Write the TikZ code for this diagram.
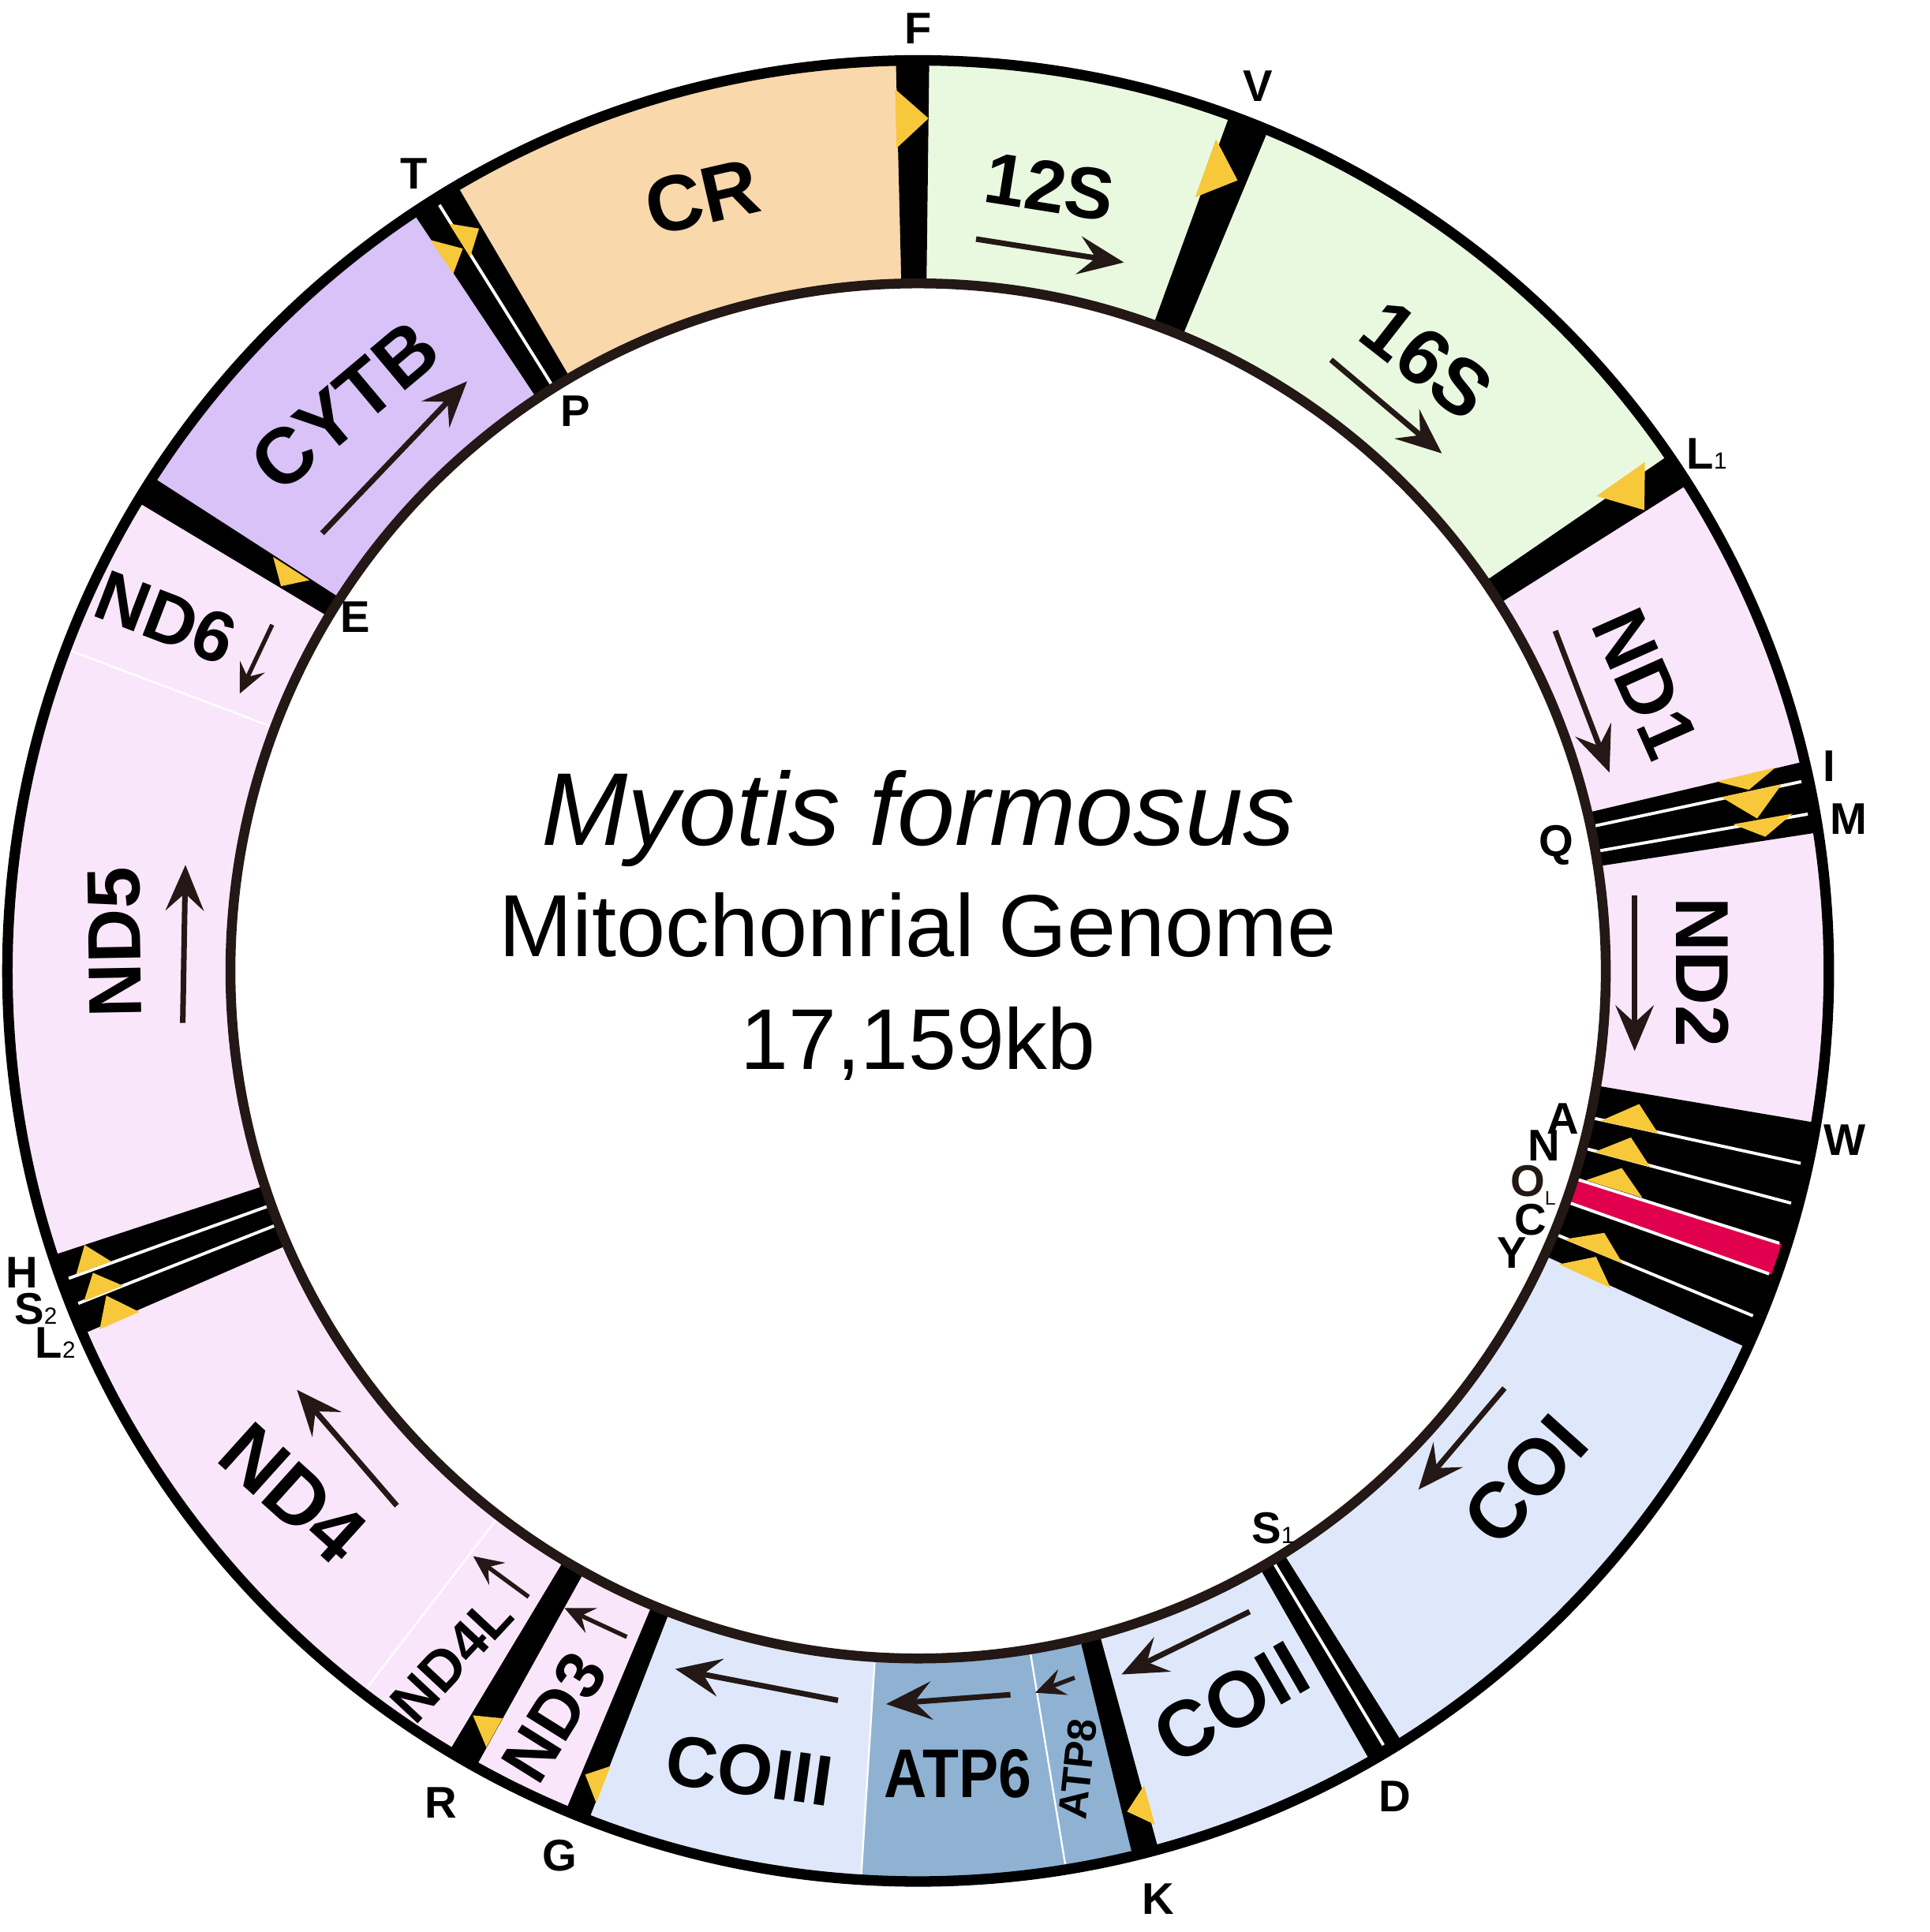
\documentclass[tikz,border=0pt]{standalone}
\usepackage{fontspec}
\setmainfont{Liberation Sans}
\usetikzlibrary{arrows.meta}
\definecolor{crc}{HTML}{F9D8AC}
\definecolor{rrna}{HTML}{E9F9DF}
\definecolor{ndc}{HTML}{FAE6FA}
\definecolor{cytbc}{HTML}{D8C2F8}
\definecolor{coc}{HTML}{DFE8FA}
\definecolor{atpc}{HTML}{8FB2D2}
\definecolor{olc}{HTML}{E0004D}
\definecolor{trnay}{HTML}{F7C83A}
\definecolor{dbrown}{HTML}{231815}
\newcommand\gseg[3]{\fill[#3] (#1:558pt) arc[start angle=#1,end angle=#2,radius=558pt] -- (#2:739pt) arc[start angle=#2,end angle=#1,radius=739pt] -- cycle;}
\newcommand\wline[1]{\draw[white,line width=2.5pt] (#1:562pt) -- (#1:733pt);}
\newcommand\thinw[1]{\draw[white,line width=1.5pt] (#1:562pt) -- (#1:735pt);}
\newcommand\ytri[5]{\fill[trnay] (#1:#2pt) -- (#1:#3pt) -- (#4:#5pt) -- cycle;}
\newcommand\lblfont[1]{\fontsize{#1}{#1}\selectfont\bfseries}
\newcommand\tsub[1]{{\fontsize{19}{19}\selectfont\mdseries #1}}
\begin{document}
\begin{tikzpicture}[x=1pt,y=1pt,
  glabel/.style={inner sep=0pt, anchor=center},
  tlabel/.style={inner sep=0pt, anchor=center, font=\lblfont{36}},
  garrow/.style={draw=dbrown, line width=4.5pt, -{Stealth[length=37pt,width=31pt,inset=14pt]}},
  sarrow/.style={draw=dbrown, line width=3.5pt, -{Stealth[length=24pt,width=22pt,inset=9pt]}}]
\useasboundingbox (-745,-780) rectangle (821,788);
% gene fills
\gseg{91.4}{120.4}{crc}
\gseg{70.0}{89.3}{rrna}
\gseg{34.5}{67.4}{rrna}
\gseg{13.3}{32.3}{ndc}
\gseg{-9.6}{8.75}{ndc}
\gseg{-57.9}{-24.45}{coc}
\gseg{-74.7}{-60.23}{coc}
\gseg{-80.65}{-76.38}{atpc}
\gseg{-93.6}{-80.65}{atpc}
\gseg{-111.2}{-93.6}{coc}
\gseg{-119.05}{-112.76}{ndc}
\gseg{-127.55}{-121.0}{ndc}
\gseg{-156.5}{-127.55}{ndc}
\gseg{159.3}{198.2}{ndc}
\gseg{149.0}{159.3}{ndc}
\gseg{123.66}{147.17}{cytbc}
% tRNA bands
\gseg{89.3}{91.4}{black}
\gseg{67.4}{70.0}{black}
\gseg{32.3}{34.5}{black}
\gseg{8.75}{13.3}{black}
\gseg{-24.45}{-9.6}{black}
\gseg{-19.6}{-17.55}{olc}
\gseg{-60.23}{-57.9}{black}
\gseg{-76.38}{-74.7}{black}
\gseg{-112.76}{-111.2}{black}
\gseg{-121.0}{-119.05}{black}
\gseg{-161.8}{-156.5}{black}
\gseg{147.17}{149.0}{black}
\gseg{120.4}{123.66}{black}
% white separators
\wline{12.1}\wline{10.0}
\wline{-12.3}\wline{-14.9}\wline{-17.55}\wline{-19.6}\wline{-22.45}
\wline{-59.0}
\wline{-160.1}\wline{-158.4}
\wline{122.0}
\thinw{159.3}\thinw{-127.55}\thinw{-80.65}\thinw{-93.6}
% yellow tRNA marks
\ytri{91.5}{668}{716}{89.3}{692}
\ytri{70.3}{667}{717}{68.0}{692}
\ytri{35.0}{672}{720}{32.4}{698}
\ytri{13.35}{666}{715}{12.3}{690}
\ytri{12.2}{667}{717}{10.3}{692}
\ytri{10.2}{672}{721}{9.0}{696}
\ytri{-12.4}{567}{615}{-10.46}{595}
\ytri{-15.0}{568}{615}{-13.15}{594}
\ytri{-17.4}{568}{616}{-15.65}{593}
\ytri{-22.55}{568}{619}{-20.9}{596}
\ytri{-24.6}{572}{618}{-22.87}{597}
\ytri{-74.5}{686}{719}{-76.04}{703}
\ytri{-111.15}{692}{724}{-112.5}{706}
\ytri{-119.07}{694}{721}{-120.88}{704}
\ytri{-160.2}{696}{726}{-161.8}{712}
\ytri{-158.4}{694}{728}{-159.9}{713}
\ytri{-156.35}{690}{725}{-158.2}{709.5}
\ytri{147.3}{587}{622}{148.87}{604}
\ytri{123.7}{680}{713}{122.22}{693}
\ytri{122.1}{684}{716}{120.6}{700}
% ring outlines
\draw[black,line width=8.5pt] (0,0) circle[radius=739pt];
\draw[dbrown,line width=8pt] (0,0) circle[radius=558pt];
% gene labels
\node[glabel,font=\lblfont{64},rotate=13] (cr) at (-175,628) {CR};
\node[glabel,font=\lblfont{59},rotate=-9] (s12) at (107,636) {12S};
\node[glabel,font=\lblfont{64},rotate=-38] (s16) at (413,496) {16S};
\node[glabel,font=\lblfont{62},rotate=-66] (nd1) at (590,233) {ND1};
\node[glabel,font=\lblfont{61},rotate=-90] (nd2) at (636.7,-1) {ND2};
\node[glabel,font=\lblfont{64},rotate=48] (co1) at (492.8,-413.3) {COI};
\node[glabel,font=\lblfont{64},rotate=30] (co2) at (254,-594) {COII};
\node[glabel,font=\lblfont{33},rotate=84] (atp8) at (129.6,-647.7) {ATP8};
\node[glabel,font=\lblfont{56}] (atp6) at (32.4,-651.5) {\scalebox{0.86}[1]{ATP6}};
\node[glabel,font=\lblfont{58},rotate=-8] (co3) at (-137,-649) {COIII};
\node[glabel,font=\lblfont{55},rotate=58] (nd3) at (-295.2,-605.6) {ND3};
\node[glabel,font=\lblfont{46},rotate=47] (nd4l) at (-378.5,-558.5) {ND4L};
\node[glabel,font=\lblfont{66},rotate=-42] (nd4) at (-507,-424) {ND4};
\node[glabel,font=\lblfont{61},rotate=91] (nd5) at (-651.5,23) {ND5};
\node[glabel,font=\lblfont{58},rotate=-21] (nd6) at (-610.5,286.7) {ND6};
\node[glabel,font=\lblfont{64},rotate=40] (cytb) at (-465.2,458.5) {CYTB};
% tRNA labels
\node[tlabel] (lF) at (0,765) {F};
\node[tlabel] (lV) at (275.5,718) {V};
\node[tlabel] (lL1) at (640,420) {L\tsub{1}};
\node[tlabel] (lI) at (739,166) {I};
\node[tlabel] (lM) at (755,123) {M};
\node[tlabel] (lQ) at (518,102) {Q};
\node[tlabel] (lW) at (752,-137) {W};
\node[tlabel] (lA) at (523,-120) {A};
\node[tlabel] (lN) at (508,-142) {N};
\node[tlabel,text=dbrown] (lOL) at (499,-174) {O\raisebox{-7pt}{\fontsize{16}{16}\selectfont\mdseries L}};
\node[tlabel] (lC) at (497,-202) {C};
\node[tlabel] (lY) at (482,-229) {Y};
\node[tlabel] (lS1) at (288,-452) {S\tsub{1}};
\node[tlabel] (lD) at (387,-670) {D};
\node[tlabel] (lK) at (195,-753) {K};
\node[tlabel] (lG) at (-291,-718) {G};
\node[tlabel] (lR) at (-387,-675) {R};
\node[tlabel] (lH) at (-727,-245) {H};
\node[tlabel] (lS2) at (-716,-274) {S\tsub{2}};
\node[tlabel] (lL2) at (-700,-302) {L\tsub{2}};
\node[tlabel] (lE) at (-457,287) {E};
\node[tlabel] (lP) at (-278,454) {P};
\node[tlabel] (lT) at (-409,647) {T};
% centre title
\node[anchor=base,inner sep=0pt,font=\fontsize{84}{84}\selectfont\itshape] (title) at (0,102) {Myotis formosus};
\node[anchor=base,inner sep=0pt,font=\fontsize{71.5}{71.5}\selectfont] (sub) at (0,12) {Mitochonrial Genome};
\node[anchor=base,inner sep=0pt,font=\fontsize{70}{70}\selectfont] (len) at (0,-80) {17,159kb};
% direction arrows
\coordinate (a12a) at (47,594);   \coordinate (a12b) at (167,575);
\coordinate (a16a) at (335,496);  \coordinate (a16b) at (425,420);
\coordinate (an1a) at (517,276);  \coordinate (an1b) at (561,161);
\coordinate (an2a) at (581.4,61.3); \coordinate (an2b) at (581.4,-65);
\coordinate (ac1a) at (475.8,-338.6); \coordinate (ac1b) at (406,-421);
\coordinate (ac2a) at (269,-520); \coordinate (ac2b) at (165,-571);
\coordinate (aa8a) at (127,-573.6); \coordinate (aa8b) at (95,-585.8);
\coordinate (aa6a) at (74.9,-587.4); \coordinate (aa6b) at (-26,-595);
\coordinate (ac3a) at (-65,-592); \coordinate (ac3b) at (-197,-566.5);
\coordinate (an3a) at (-236.4,-540.5); \coordinate (an3b) at (-287,-517);
\coordinate (a4la) at (-316,-508); \coordinate (a4lb) at (-361,-475);
\coordinate (an4a) at (-423,-434); \coordinate (an4b) at (-504,-340);
\coordinate (an5a) at (-596.7,-42.2); \coordinate (an5b) at (-594.5,86);
\coordinate (an6a) at (-524.1,281); \coordinate (an6b) at (-550.5,225);
\coordinate (acba) at (-483.6,355.2); \coordinate (acbb) at (-366,478.5);
\draw[garrow] (a12a) -- (a12b);
\draw[garrow] (a16a) -- (a16b);
\draw[garrow] (an1a) -- (an1b);
\draw[garrow] (an2a) -- (an2b);
\draw[garrow] (ac1a) -- (ac1b);
\draw[garrow] (ac2a) -- (ac2b);
\draw[sarrow] (aa8a) -- (aa8b);
\draw[garrow] (aa6a) -- (aa6b);
\draw[garrow] (ac3a) -- (ac3b);
\draw[sarrow] (an3a) -- (an3b);
\draw[sarrow] (a4la) -- (a4lb);
\draw[garrow] (an4a) -- (an4b);
\draw[garrow] (an5a) -- (an5b);
\draw[sarrow] (an6a) -- (an6b);
\draw[garrow] (acba) -- (acbb);
\end{tikzpicture}
\end{document}
